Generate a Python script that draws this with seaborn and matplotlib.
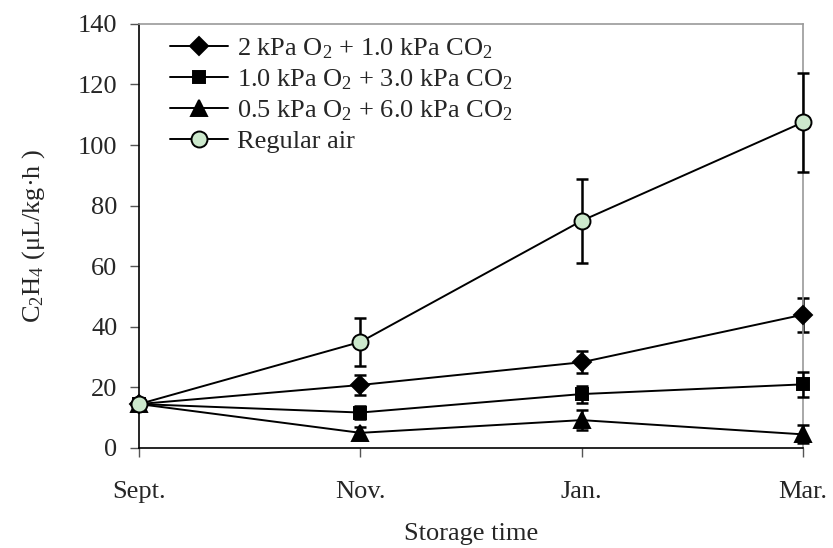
import matplotlib
matplotlib.use("Agg")
import matplotlib.pyplot as plt
import seaborn as sns
import pandas as pd
import numpy as np

months = ["Sept.", "Nov.", "Jan.", "Mar."]
labels = [
    "2 kPa O$_2$ + 1.0 kPa CO$_2$",
    "1.0 kPa O$_2$ + 3.0 kPa CO$_2$",
    "0.5 kPa O$_2$ + 6.0 kPa CO$_2$",
    "Regular air",
]
o2_2 = [14.5, 20.8, 28.3, 44.0]
o2_2_err = [0.0, 3.2, 3.7, 5.6]
o2_1 = [14.5, 11.7, 17.8, 21.0]
o2_1_err = [0.0, 2.2, 2.8, 4.1]
o2_05 = [14.5, 5.0, 9.2, 4.5]
o2_05_err = [0.0, 2.0, 3.2, 3.0]
air = [14.5, 35.0, 75.0, 107.5]
air_err = [0.0, 7.8, 13.8, 16.3]

series_vals = [o2_2, o2_1, o2_05, air]
series_err = [o2_2_err, o2_1_err, o2_05_err, air_err]
markers = ["D", "s", "^", "o"]
msizes = [9, 9, 11, 11.5]
faces = ["black", "black", "black", "#cce8cc"]

sns.set_theme(style="white")
plt.rcParams["font.family"] = ["Liberation Serif", "DejaVu Serif"]
plt.rcParams["mathtext.fontset"] = "custom"
plt.rcParams["mathtext.rm"] = "Liberation Serif"
plt.rcParams["mathtext.it"] = "Liberation Serif:italic"
plt.rcParams["mathtext.bf"] = "Liberation Serif:bold"

FS = 19
fig = plt.figure(figsize=(8.33, 5.48), dpi=100)
ax = fig.add_axes([0.167, 0.1825, 0.797, 0.774])

x = np.arange(len(months))
for i, (vals, errs) in enumerate(zip(series_vals, series_err)):
    df = pd.DataFrame({"month": x, "value": vals})
    ax.errorbar(x, vals, yerr=errs, fmt="none", ecolor="black",
                elinewidth=1.8, capsize=4.5, capthick=1.8, zorder=2 + i * 2,
                clip_on=False)
    sns.lineplot(data=df, x="month", y="value", ax=ax, color="black",
                 linewidth=1.4, marker=markers[i], markersize=msizes[i],
                 markerfacecolor=faces[i], markeredgecolor="black",
                 markeredgewidth=1.4, label=labels[i], zorder=3 + i * 2,
                 clip_on=False)

ax.set_xlim(0, 3)
ax.set_ylim(0, 140)
ax.set_xticks(x)
ax.set_xticklabels(months)
ax.set_yticks(np.arange(0, 141, 20))
ax.tick_params(axis="both", labelsize=FS, direction="out", length=6.5,
               width=1, color="#555555", left=True, bottom=True)
ax.tick_params(axis="y", pad=9)
ax.tick_params(axis="x", pad=17)

for s in ["left", "bottom"]:
    ax.spines[s].set_color("black")
    ax.spines[s].set_linewidth(1.2)
for s in ["top", "right"]:
    ax.spines[s].set_color("#9a9a9a")
    ax.spines[s].set_linewidth(1.2)

ax.set_xlabel("Storage time", fontsize=FS, labelpad=15)
ax.set_ylabel("C$_2$H$_4$ (\u03bcL/kg\u00b7h )", fontsize=FS, labelpad=22)

leg = ax.legend(loc="upper left", bbox_to_anchor=(0.03, 0.995), frameon=False,
                fontsize=FS, handlelength=2.2, handletextpad=0.35,
                labelspacing=0.24, borderaxespad=0)

fig.savefig("out.png", dpi=100)
